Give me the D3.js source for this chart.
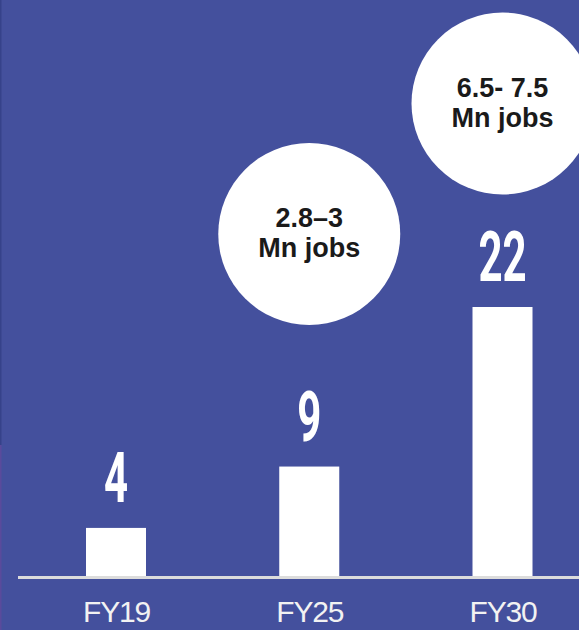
<!DOCTYPE html>
<html>
<head>
<meta charset="utf-8">
<script src="https://cdn.jsdelivr.net/npm/d3@7"></script>
<style>
html,body{margin:0;padding:0;background:#44509d;overflow:hidden;}
svg{display:block;}
</style>
</head>
<body>
<div id="chart"></div>
<script>
// ---- data ----
const categories = ["FY19", "FY25", "FY30"];
const values = [4, 9, 22];
const valueLabels = ["4", "9", "22"];
const jobLabelsLine1 = [null, "2.8–3", "6.5- 7.5"];
const jobLabelsLine2 = [null, "Mn jobs", "Mn jobs"];

// ---- layout ----
const W = 579, H = 630;
const baseY = 577;
const bubbleCY = [null, 234, 103.5];
const bubbleR = 91;
const barW = 60;

const svg = d3.select("#chart").append("svg").attr("width", W).attr("height", H);
svg.append("rect").attr("width", W).attr("height", H).attr("fill", "#44509d");
// thin left edge strips
svg.append("rect").attr("x", 0).attr("y", 0).attr("width", 1.5).attr("height", 445).attr("fill", "#36428a");
svg.append("rect").attr("x", 0).attr("y", 445).attr("width", 1.5).attr("height", H - 445).attr("fill", "#5a4a9c");

const x = d3.scalePoint().domain(categories).range([116, 502.5]);
const y = d3.scaleLinear().domain([0, 22]).range([baseY, baseY - 270]);

const data = categories.map((c, i) => ({
  cat: c, v: values[i], lab: valueLabels[i],
  j1: jobLabelsLine1[i], j2: jobLabelsLine2[i], cy: bubbleCY[i]
}));

// bars
svg.selectAll("rect.bar").data(data).join("rect")
  .attr("class", "bar")
  .attr("x", d => x(d.cat) - barW / 2)
  .attr("y", d => y(d.v))
  .attr("width", barW)
  .attr("height", d => y(0) - y(d.v))
  .attr("fill", "#ffffff");

// value labels (condensed)
svg.selectAll("text.val").data(data).join("text")
  .attr("class", "val")
  .attr("transform", d => `translate(${x(d.cat)},${y(d.v) - 26}) scale(0.6,1)`)
  .attr("text-anchor", "middle")
  .attr("font-family", "Roboto, 'Liberation Sans', sans-serif")
  .attr("font-weight", 700)
  .attr("font-size", 70)
  .attr("fill", "#ffffff")
  .text(d => d.lab);

// axis line
svg.append("rect").attr("x", 18).attr("y", 576).attr("width", W - 18).attr("height", 3).attr("fill", "#dcdcdc");

// axis labels via d3 axis
const axisG = svg.append("g").attr("transform", `translate(0,${baseY})`)
  .call(d3.axisBottom(x).tickSize(0).tickPadding(0));
axisG.select(".domain").remove();
axisG.selectAll("text")
  .attr("dy", null)
  .attr("y", 45)
  .attr("font-family", "'Liberation Sans', Arial, sans-serif")
  .attr("font-size", 30)
  .attr("letter-spacing", "-1.2")
  .attr("fill", "#f2f2f2");

// bubbles
const bub = svg.selectAll("g.bub").data(data.filter(d => d.j1)).join("g")
  .attr("class", "bub")
  .attr("transform", d => `translate(${x(d.cat)},${d.cy})`);
bub.append("circle").attr("r", bubbleR).attr("fill", "#ffffff");
bub.append("text")
  .attr("text-anchor", "middle")
  .attr("y", -7)
  .attr("font-family", "'Liberation Sans', Arial, sans-serif")
  .attr("font-weight", 700)
  .attr("font-size", 27)
  .attr("fill", "#1a1a1a")
  .text(d => d.j1);
bub.append("text")
  .attr("text-anchor", "middle")
  .attr("y", 23)
  .attr("font-family", "'Liberation Sans', Arial, sans-serif")
  .attr("font-weight", 700)
  .attr("font-size", 27)
  .attr("fill", "#1a1a1a")
  .text(d => d.j2);
</script>
</body>
</html>
